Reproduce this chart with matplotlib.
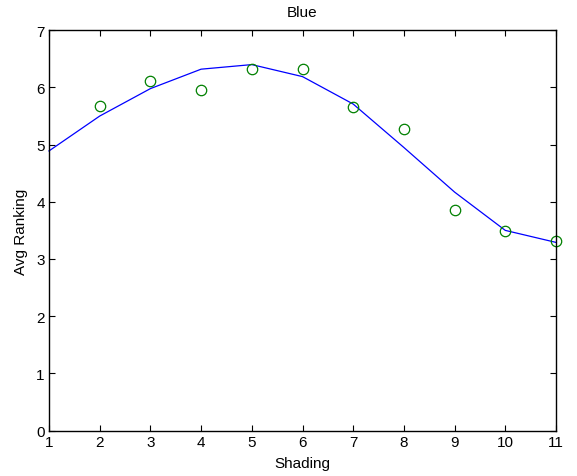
import matplotlib
matplotlib.use("Agg")
import matplotlib.pyplot as plt

plt.rcParams['font.family'] = ['Liberation Sans', 'DejaVu Sans']

shading = [1, 2, 3, 4, 5, 6, 7, 8, 9, 10, 11]
fit_values = [4.89, 5.50, 5.98, 6.32, 6.40, 6.19, 5.71, 4.95, 4.17, 3.50, 3.29]
obs_x = [2, 3, 4, 5, 6, 7, 8, 9, 10, 11]
obs_values = [5.67, 6.12, 5.96, 6.32, 6.32, 5.65, 5.27, 3.86, 3.49, 3.32]
xticks = list(range(1, 12))
yticks = list(range(0, 8))

fig = plt.figure(figsize=(5.77, 4.77), dpi=100)
ax = fig.add_axes([49/577, 1 - 431.5/477, (556 - 49)/577, (431.5 - 31.3)/477])

ax.plot(shading, fit_values, color=(0, 0, 1), linewidth=0.9, clip_on=False)
ax.plot(obs_x, obs_values, linestyle='none', marker='o', markersize=7.5,
        markerfacecolor='none', markeredgecolor=(0, 0.5, 0), markeredgewidth=0.9,
        clip_on=False)

ax.set_xlim(1, 11)
ax.set_ylim(0, 7)
ax.set_xticks(xticks)
ax.set_yticks(yticks)
ax.tick_params(direction='in', top=True, right=True, labelsize=11, length=4,
               width=0.8, pad=3)
for s in ax.spines.values():
    s.set_linewidth(1.0)
ax.set_title('Blue', fontsize=11, pad=10)
ax.set_xlabel('Shading', fontsize=11, labelpad=5)
ax.set_ylabel('Avg Ranking', fontsize=11, labelpad=6)

fig.savefig('out.png', dpi=100)
